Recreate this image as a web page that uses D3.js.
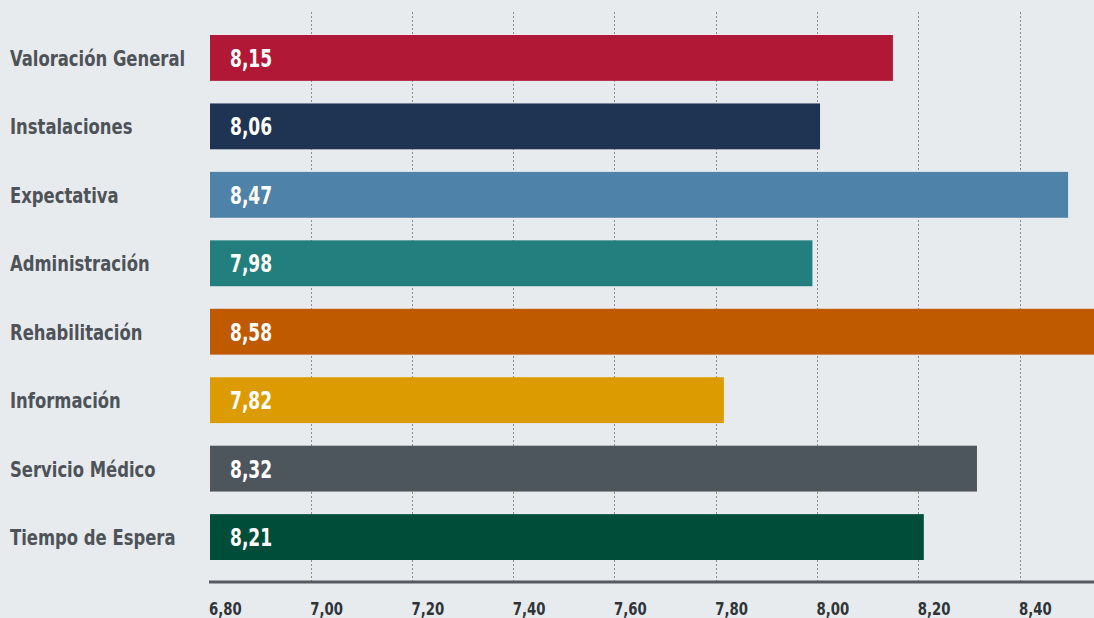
<!DOCTYPE html>
<html>
<head>
<meta charset="utf-8">
<script src="https://cdn.jsdelivr.net/npm/d3@7"></script>
<style>
  body { margin: 0; background: #e8ebee; }
  text { font-family: "DejaVu Sans Condensed", "Liberation Sans Narrow", "Roboto", sans-serif; font-weight: bold; }
</style>
</head>
<body>
<div id="chart"></div>
<script>
// categories, top to bottom
var categories = ["Valoración General", "Instalaciones", "Expectativa", "Administración",
                  "Rehabilitación", "Información", "Servicio Médico", "Tiempo de Espera"];
// bar lengths as drawn in the picture
var values = [8.149, 8.005, 8.495, 7.99, 8.58, 7.815, 8.315, 8.21];
// value text printed inside the bars
var valueLabels = ["8,15", "8,06", "8,47", "7,98", "8,58", "7,82", "8,32", "8,21"];
var colors = ["#b01835", "#1f3352", "#4f82a8", "#227f7d", "#c05a00", "#dc9c00", "#4d555d", "#004d3a"];
var ticks = [6.8, 7.0, 7.2, 7.4, 7.6, 7.8, 8.0, 8.2, 8.4];

var width = 1094, height = 618;

var svg = d3.select('#chart')
  .append('svg')
  .attr('width', width)
  .attr('height', height);

svg.append('rect').attr('width', width).attr('height', height).attr('fill', '#e8ebee');

var x = d3.scaleLinear().domain([6.8, 8.4]).range([210, 1020]);

var y = d3.scaleBand()
  .domain(categories)
  .range([35 - 11.3, 560 + 11.3])
  .paddingInner(0.33)
  .paddingOuter(0.165);

// squeeze text horizontally to look like a condensed face
function narrow(sel, sx) {
  sel.each(function() {
    var t = d3.select(this);
    var tx = +t.attr('x'), ty = +t.attr('y');
    t.attr('x', 0).attr('y', 0)
     .attr('transform', 'translate(' + tx + ',' + ty + ') scale(' + sx + ',1)');
  });
}

// dotted grid
svg.append('g')
  .selectAll('line')
  .data(ticks.slice(1))
  .enter()
  .append('line')
  .attr('x1', function(d) { return Math.floor(x(d)) + 0.5; })
  .attr('x2', function(d) { return Math.floor(x(d)) + 0.5; })
  .attr('y1', 12)
  .attr('y2', 581)
  .attr('stroke', '#8a8f94')
  .attr('stroke-width', 1)
  .attr('stroke-dasharray', '2,2');

// bars
svg.append('g')
  .selectAll('rect')
  .data(categories)
  .enter()
  .append('rect')
  .attr('x', x(6.8))
  .attr('y', function(d) { return y(d); })
  .attr('width', function(d, i) { return x(values[i]) - x(6.8); })
  .attr('height', y.bandwidth())
  .attr('fill', function(d, i) { return colors[i]; });

// value labels
svg.append('g')
  .selectAll('text')
  .data(categories)
  .enter()
  .append('text')
  .attr('x', 230)
  .attr('y', function(d) { return y(d) + y.bandwidth() / 2; })
  .attr('dy', '0.36em')
  .attr('fill', '#ffffff')
  .attr('font-size', 25)
  .text(function(d, i) { return valueLabels[i]; })
  .call(narrow, 0.76);

// category labels
svg.append('g')
  .selectAll('text')
  .data(categories)
  .enter()
  .append('text')
  .attr('x', 10)
  .attr('y', function(d) { return y(d) + y.bandwidth() / 2; })
  .attr('dy', '0.36em')
  .attr('fill', '#4d5358')
  .attr('font-size', 22)
  .text(function(d) { return d; })
  .call(narrow, 0.83);

// x axis
svg.append('line')
  .attr('x1', 209).attr('x2', width)
  .attr('y1', 582).attr('y2', 582)
  .attr('stroke', '#555b60')
  .attr('stroke-width', 3);

svg.append('g')
  .selectAll('text')
  .data(ticks)
  .enter()
  .append('text')
  .attr('x', function(d) { return x(d) - 1; })
  .attr('y', 615)
  .attr('fill', '#2f3438')
  .attr('font-size', 18)
  .text(function(d) { return d3.format('.2f')(d).replace('.', ','); })
  .call(narrow, 0.82);
</script>
</body>
</html>
